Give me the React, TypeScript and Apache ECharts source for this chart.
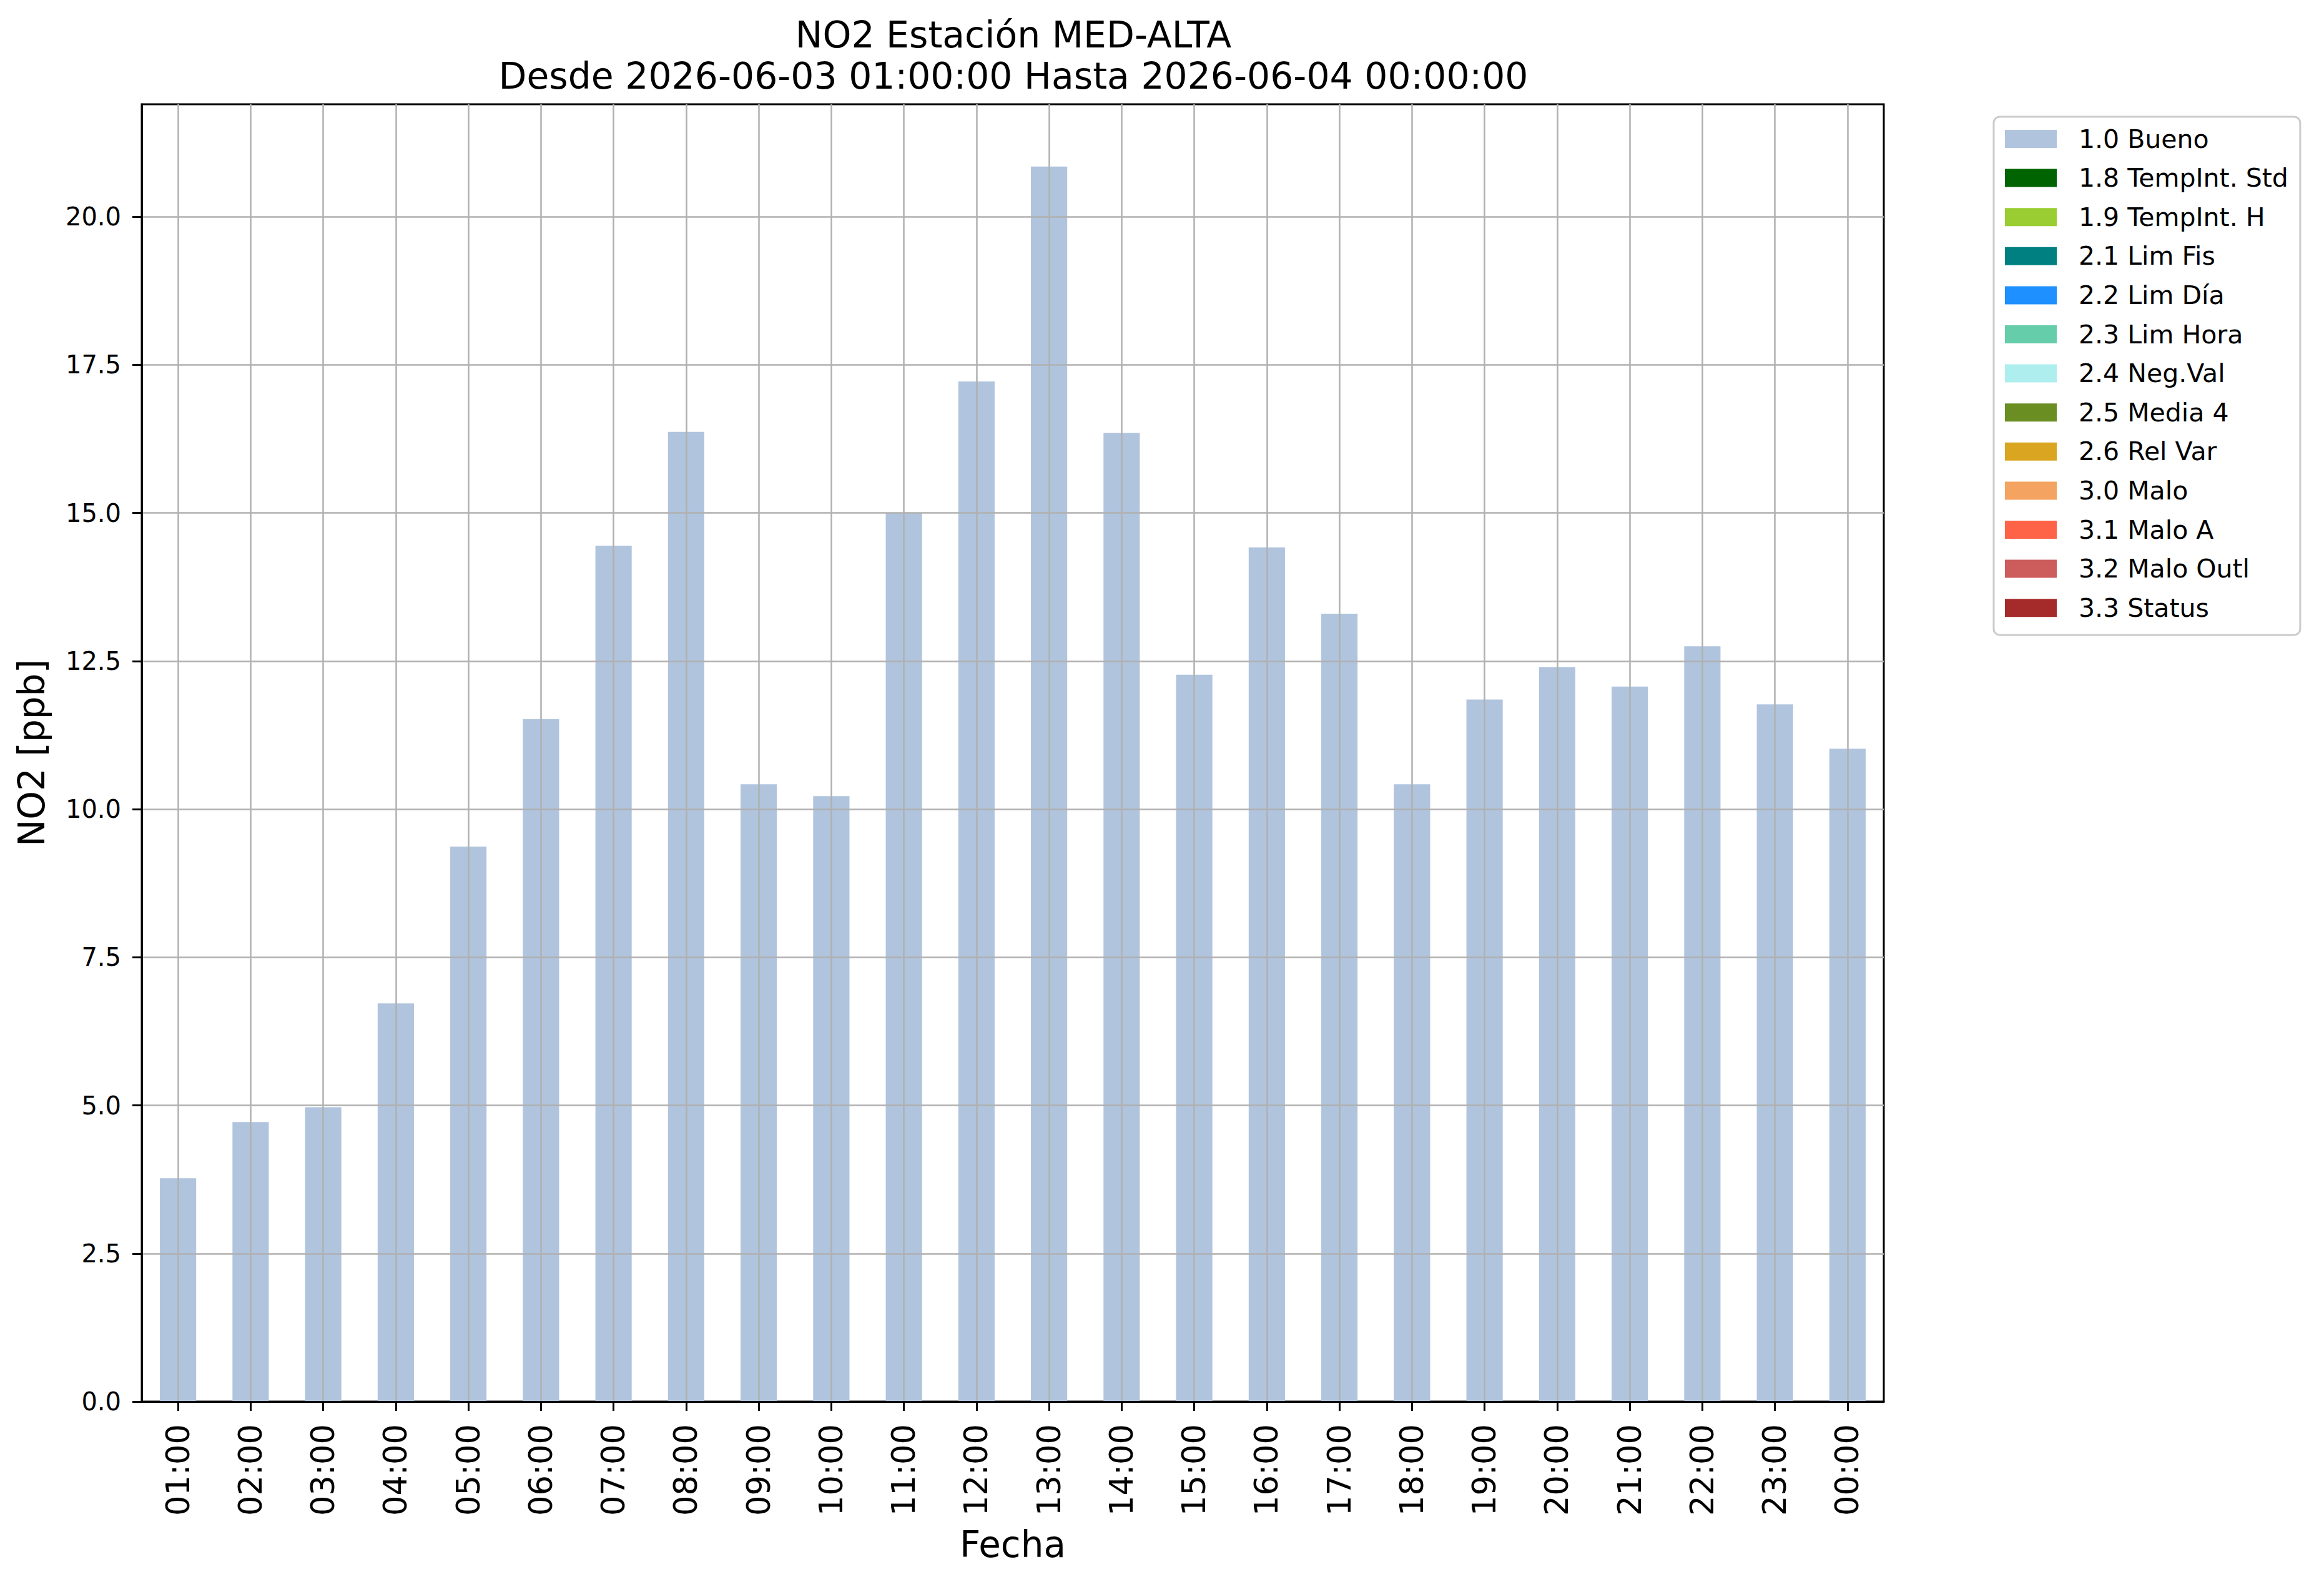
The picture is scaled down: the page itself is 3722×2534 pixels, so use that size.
import React, { useEffect, useRef } from 'react';
import * as echarts from 'echarts';

const categories = [
  '01:00', '02:00', '03:00', '04:00', '05:00', '06:00', '07:00', '08:00',
  '09:00', '10:00', '11:00', '12:00', '13:00', '14:00', '15:00', '16:00',
  '17:00', '18:00', '19:00', '20:00', '21:00', '22:00', '23:00', '00:00',
];
const no2Values = [
  3.77, 4.72, 4.97, 6.72, 9.37, 11.52, 14.45, 16.37,
  10.42, 10.22, 15.0, 17.22, 20.85, 16.35, 12.27, 14.42,
  13.3, 10.42, 11.85, 12.4, 12.07, 12.75, 11.77, 11.02,
];
const qualityNames = [
  '1.0 Bueno', '1.8 TempInt. Std', '1.9 TempInt. H', '2.1 Lim Fis', '2.2 Lim Día',
  '2.3 Lim Hora', '2.4 Neg.Val', '2.5 Media 4', '2.6 Rel Var', '3.0 Malo',
  '3.1 Malo A', '3.2 Malo Outl', '3.3 Status',
];
const qualityColors = [
  '#B0C4DE', '#006400', '#9ACD32', '#008080', '#1E90FF',
  '#66CDAA', '#AFEEEE', '#6B8E23', '#DAA520', '#F4A460',
  '#FF6347', '#CD5C5C', '#A52A2A',
];
const yTicks = [0, 2.5, 5, 7.5, 10, 12.5, 15, 17.5, 20];
const yMax = 21.9;
const titleText = 'NO2 Estación MED-ALTA\nDesde 2026-06-03 01:00:00 Hasta 2026-06-04 00:00:00';

const FONT = 'DejaVu Sans';

export default function App() {
  const ref = useRef<HTMLDivElement>(null);
  useEffect(() => {
    document.body.style.margin = '0';
    const chart = echarts.init(ref.current as HTMLDivElement, null, { renderer: 'svg' });
    const gridLeft = 227;
    const gridTop = 167;
    const gridW = 3017 - 227;
    const gridH = 2245 - 167;
    chart.setOption({
      animation: false,
      backgroundColor: '#ffffff',
      title: {
        text: titleText,
        left: gridLeft + gridW / 2 - 4,
        top: 18,
        textAlign: 'center',
        textStyle: {
          fontFamily: FONT,
          fontSize: 58.4,
          fontWeight: 'normal',
          color: '#000',
          lineHeight: 66,
        },
      },
      legend: {
        orient: 'vertical',
        left: 3193,
        top: 187,
        icon: 'rect',
        itemWidth: 83,
        itemHeight: 29,
        itemGap: 21.6,
        selectedMode: false,
        padding: [15, 19, 23, 18],
        borderColor: '#cccccc',
        borderWidth: 3,
        borderRadius: 10,
        backgroundColor: '#ffffff',
        textStyle: {
          fontFamily: FONT,
          fontSize: 41,
          color: '#000',
          lineHeight: 40,
          padding: [0, 0, 0, 30],
        },
        data: qualityNames,
      },
      grid: {
        left: gridLeft,
        top: gridTop,
        width: gridW,
        height: gridH,
        show: true,
        borderColor: '#000',
        borderWidth: 3,
        backgroundColor: 'transparent',
        containLabel: false,
      },
      xAxis: {
        type: 'category',
        data: categories,
        z: 5,
        name: 'Fecha',
        nameLocation: 'middle',
        nameGap: 200,
        nameTextStyle: { fontFamily: FONT, fontSize: 58, color: '#000' },
        axisLine: { show: true, lineStyle: { color: '#000', width: 3 } },
        axisTick: { show: true, alignWithLabel: true, length: 15, lineStyle: { color: '#000', width: 3 }, interval: 0 },
        axisLabel: {
          rotate: 90,
          interval: 0,
          margin: 36,
          fontFamily: FONT,
          fontSize: 51,
          color: '#000',
        },
        splitLine: {
          show: true,
          alignWithLabel: true,
          interval: 0,
          lineStyle: { color: '#b0b0b0', width: 2.5 },
        },
      },
      yAxis: {
        type: 'value',
        min: 0,
        max: yMax,
        interval: 2.5,
        z: 5,
        name: 'NO2 [ppb]',
        nameLocation: 'middle',
        nameGap: 147,
        nameTextStyle: { fontFamily: FONT, fontSize: 58, color: '#000' },
        axisLine: { show: true, lineStyle: { color: '#000', width: 3 } },
        axisTick: { show: true, length: 15, lineStyle: { color: '#000', width: 3 }, customValues: yTicks },
        axisLabel: {
          margin: 33,
          fontFamily: FONT,
          fontSize: 40,
          color: '#000',
          customValues: yTicks,
          formatter: (v: number) => v.toFixed(1),
        },
        splitLine: { show: true, lineStyle: { color: '#b0b0b0', width: 2.5 } },
      },
      series: qualityNames.map((name, i) => ({
        type: 'bar',
        name,
        stack: 'quality',
        barWidth: '50%',
        itemStyle: { color: qualityColors[i] },
        data: i === 0 ? no2Values : [],
      })),
    });
    return () => chart.dispose();
  }, []);
  return <div ref={ref} style={{ width: 3722, height: 2534 }} />;
}
